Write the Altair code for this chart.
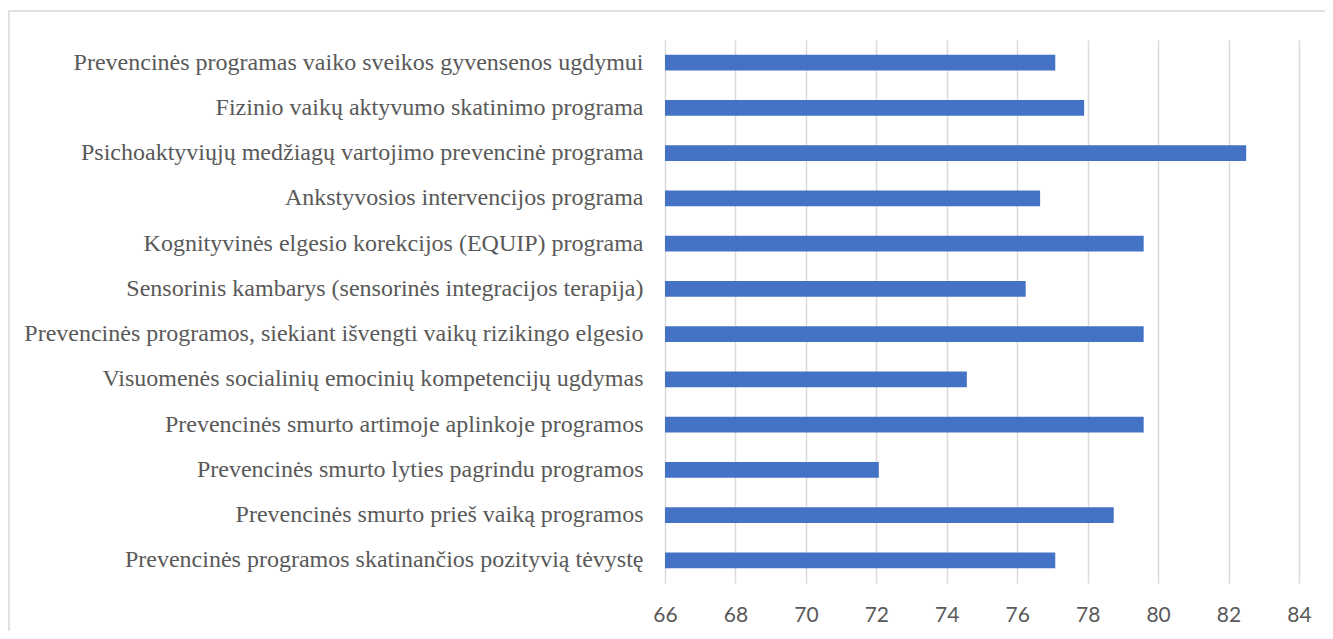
import altair as alt
import pandas as pd

categories = [
    "Prevencinės programas vaiko sveikos gyvensenos ugdymui",
    "Fizinio vaikų aktyvumo skatinimo programa",
    "Psichoaktyviųjų medžiagų vartojimo prevencinė programa",
    "Ankstyvosios intervencijos programa",
    "Kognityvinės elgesio korekcijos (EQUIP) programa",
    "Sensorinis kambarys (sensorinės integracijos terapija)",
    "Prevencinės programos, siekiant išvengti vaikų rizikingo elgesio",
    "Visuomenės socialinių emocinių kompetencijų ugdymas",
    "Prevencinės smurto artimoje aplinkoje programos",
    "Prevencinės smurto lyties pagrindu programos",
    "Prevencinės smurto prieš vaiką programos",
    "Prevencinės programos skatinančios pozityvią tėvystę",
]
values = [77.08, 77.9, 82.5, 76.65, 79.59, 76.24, 79.59, 74.57, 79.59, 72.07, 78.74, 77.08]
x_ticks = [66, 68, 70, 72, 74, 76, 78, 80, 82, 84]

df = pd.DataFrame({"program": categories, "value": values})

bars = alt.Chart(df).mark_bar(color="#4472c4").encode(
    y=alt.Y(
        "program:N",
        sort=categories,
        title=None,
        scale=alt.Scale(paddingInner=0.647, paddingOuter=0.3235),
        axis=alt.Axis(
            ticks=False,
            tickSize=0,
            domain=False,
            grid=False,
            labelFont="Liberation Serif",
            labelFontSize=24,
            labelColor="#595959",
            labelPadding=22,
            labelLimit=800,
        ),
    ),
    x=alt.X(
        "value:Q",
        title=None,
        scale=alt.Scale(domain=[66, 84], zero=False, nice=False),
        axis=alt.Axis(
            values=x_ticks,
            ticks=False,
            tickSize=0,
            domain=False,
            grid=True,
            gridColor="#d9d9d9",
            gridWidth=1.5,
            labelFont="Lato",
            labelFontSize=21,
            labelColor="#595959",
            labelPadding=21,
            labelFlush=False,
            labelOverlap=False,
        ),
    ),
    x2=alt.datum(66),
)

border = alt.Chart(pd.DataFrame({"a": [0]})).mark_rect(
    fillOpacity=0, stroke="#d9d9d9", strokeWidth=1.5
).encode(
    x=alt.value(-656),
    x2=alt.value(1000),
    y=alt.value(-29),
    y2=alt.value(1000),
)

chart = alt.layer(border, bars).properties(
    width=634,
    height=543,
    padding={"left": 657, "top": 32, "right": 26, "bottom": 48},
    autosize=alt.AutoSizeParams(type="none"),
).configure_view(strokeWidth=0)

chart.save("out.html", embed_options={"renderer": "svg", "actions": False})
